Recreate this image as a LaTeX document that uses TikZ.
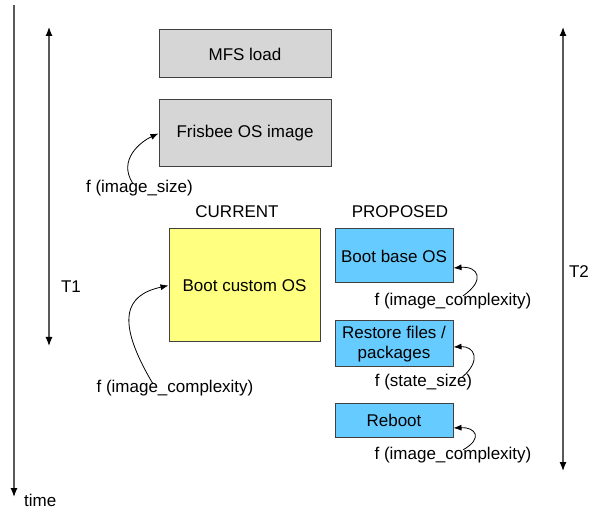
\documentclass[tikz,border=0pt]{standalone}
\usepackage{fontspec}
\setmainfont{Liberation Sans}
\usetikzlibrary{arrows.meta}
\begin{document}
\begin{tikzpicture}[x=1pt,y=-1pt,
  every node/.style={font=\fontsize{17}{20}\selectfont, inner sep=0pt},
  box/.style={draw=black!75, line width=1pt, align=center},
  graybox/.style={box, fill=black!16},
  yelbox/.style={box, fill={rgb,255:red,255;green,255;blue,128}},
  bluebox/.style={box, fill={rgb,255:red,102;green,204;blue,255}},
  axis/.style={draw=black!65, line width=1.2pt, {Latex[length=9pt,width=7pt,black]}-{Latex[length=9pt,width=7pt,black]}},
  curv/.style={draw=black, line width=0.8pt, -{Latex[length=8pt,width=6pt]}},
  lbl/.style={text=black}
]
\useasboundingbox (0,0) rectangle (597,510);
% time axis
\coordinate (t0) at (14,5);
\coordinate (t1) at (14,497);
\draw[draw=black!65, line width=1.2pt, -{Latex[length=9pt,width=7pt,black]}] (t0) -- (t1);
\node[lbl, anchor=west] (time) at (24,500) {time};
% T1
\coordinate (a0) at (49,27);
\coordinate (a1) at (49,346);
\draw[axis] (a0) -- (a1);
\node[lbl] (T1) at (71,287) {T1};
% T2
\coordinate (b0) at (563,27);
\coordinate (b1) at (563,471);
\draw[axis] (b0) -- (b1);
\node[lbl] (T2) at (579,272) {T2};
% boxes
\node[graybox, minimum width=172pt, minimum height=48pt] (mfs) at (245,54) {MFS load};
\node[graybox, minimum width=172pt, minimum height=67pt] (fris) at (245,133.5) {Frisbee OS image};
\node[lbl] (cur) at (237,212) {CURRENT};
\node[lbl] (prop) at (400,212) {PROPOSED};
\node[yelbox, minimum width=151pt, minimum height=113pt] (custom) at (244.5,285.5) {Boot custom OS};
\node[bluebox, minimum width=118pt, minimum height=54pt] (base) at (394,256) {Boot base OS};
\node[bluebox, minimum width=118pt, minimum height=46pt] (restore) at (394,344) {Restore files /\\packages};
\node[bluebox, minimum width=118pt, minimum height=33pt] (reboot) at (394,420.5) {Reboot};
% labels
\node[lbl] (fsize) at (139.5,188) {f (image\_size)};
\node[lbl] (fcplx) at (175,388) {f (image\_complexity)};
\node[lbl] (fbase) at (453,301) {f (image\_complexity)};
\node[lbl] (fstate) at (423.5,382) {f (state\_size)};
\node[lbl] (freboot) at (453,455) {f (image\_complexity)};
% curved arrows
\draw[curv] ([xshift=-7pt,yshift=-3pt]fsize.north) .. controls (118,160) and (140,142) .. (fris.west);
\draw[curv] ([xshift=-22pt,yshift=-4pt]fcplx.north) .. controls (115,320) and (125,295) .. (custom.west);
\draw[curv] ([xshift=10pt,yshift=-3pt]fbase.north) .. controls (486,280) and (478,266) .. ([yshift=-12pt]base.east);
\draw[curv] ([xshift=39pt,yshift=-3pt]fstate.north) .. controls (482,360) and (474,346) .. ([yshift=-3pt]restore.east);
\draw[curv] ([xshift=10pt,yshift=-3pt]freboot.north) .. controls (484,438) and (475,427) .. ([yshift=-7.5pt]reboot.east);
\end{tikzpicture}
\end{document}
